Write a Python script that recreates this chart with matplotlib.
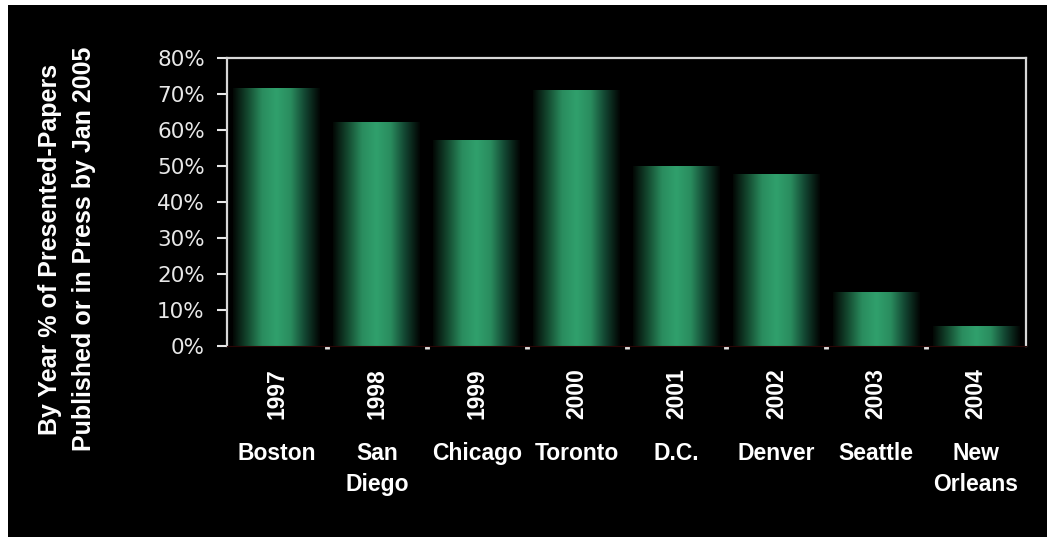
import numpy as np
import matplotlib
matplotlib.use("Agg")
import matplotlib.pyplot as plt
from matplotlib.colors import LinearSegmentedColormap
from matplotlib.patches import Rectangle

years = ["1997", "1998", "1999", "2000", "2001", "2002", "2003", "2004"]
cities = ["Boston", "San\nDiego", "Chicago", "Toronto", "D.C.", "Denver", "Seattle", "New\nOrleans"]
values = [0.716, 0.621, 0.571, 0.711, 0.499, 0.476, 0.150, 0.055]
yticks = [0, 0.1, 0.2, 0.3, 0.4, 0.5, 0.6, 0.7, 0.8]

fig = plt.figure(figsize=(10.47, 5.37), dpi=100, facecolor="white")
# black panel, leaves a thin white strip on the left and top like the original
fig.patches.append(Rectangle((8 / 1047, 0), 1, 1 - 5 / 537, transform=fig.transFigure,
                             facecolor="black", edgecolor="none", zorder=-5))

ax = fig.add_axes([227 / 1047, 1 - 346 / 537, (1026 - 227) / 1047, (346 - 58) / 537])
ax.set_facecolor("black")

# horizontal shading: dark edges, bright green middle
cmap = LinearSegmentedColormap.from_list("bar", ["#030805", "#14492f", "#2a8c5e", "#30a06c",
                                                 "#2a8c5e", "#124430", "#020604"])
grad = np.linspace(0, 1, 200).reshape(1, -1)
w = 0.87
x = np.arange(len(values))
for xi, v in zip(x, values):
    ax.imshow(grad, cmap=cmap, aspect="auto", extent=[xi - w / 2, xi + w / 2, 0, v],
              interpolation="bicubic", zorder=2)

ax.set_xlim(-0.5, len(values) - 0.5)
ax.set_ylim(0, 0.8)

ax.set_yticks(yticks)
ax.set_yticklabels([f"{int(round(t * 100))}%" for t in yticks])
ax.tick_params(axis="y", colors="#e8e8e8", labelsize=15.5, length=7, width=1.5, pad=9)
for lab in ax.get_yticklabels():
    lab.set_family("DejaVu Sans")

ax.set_xticks(x)
ax.set_xticklabels([])
ax.tick_params(axis="x", which="major", length=0)
ax.set_xticks(np.arange(len(values) - 1) + 0.5, minor=True)
ax.tick_params(axis="x", which="minor", length=2, width=3.5, colors="#e0e0e0")

for side in ["left", "top", "right"]:
    ax.spines[side].set_color("#d8d8d8")
    ax.spines[side].set_linewidth(1.6)
ax.spines["bottom"].set_color("#2a0606")

tr = ax.get_xaxis_transform()
for xi, yr, city in zip(x, years, cities):
    ax.text(xi, -0.076, yr, transform=tr, rotation=90, ha="center", va="top",
            color="white", fontsize=16.5, fontweight="bold", family="Liberation Sans")
    ax.text(xi, -0.333, city, transform=tr, ha="center", va="top", color="white",
            fontsize=16.5, fontweight="bold", family="Liberation Sans", linespacing=1.45)

fig.text(0.064, 0.536, "By Year % of Presented-Papers\nPublished or in Press by Jan 2005",
         rotation=90, ha="center", va="center", multialignment="center", color="white",
         fontsize=18, fontweight="bold", family="Liberation Sans", linespacing=1.5)

fig.savefig("out.png", dpi=100, facecolor=fig.get_facecolor())
